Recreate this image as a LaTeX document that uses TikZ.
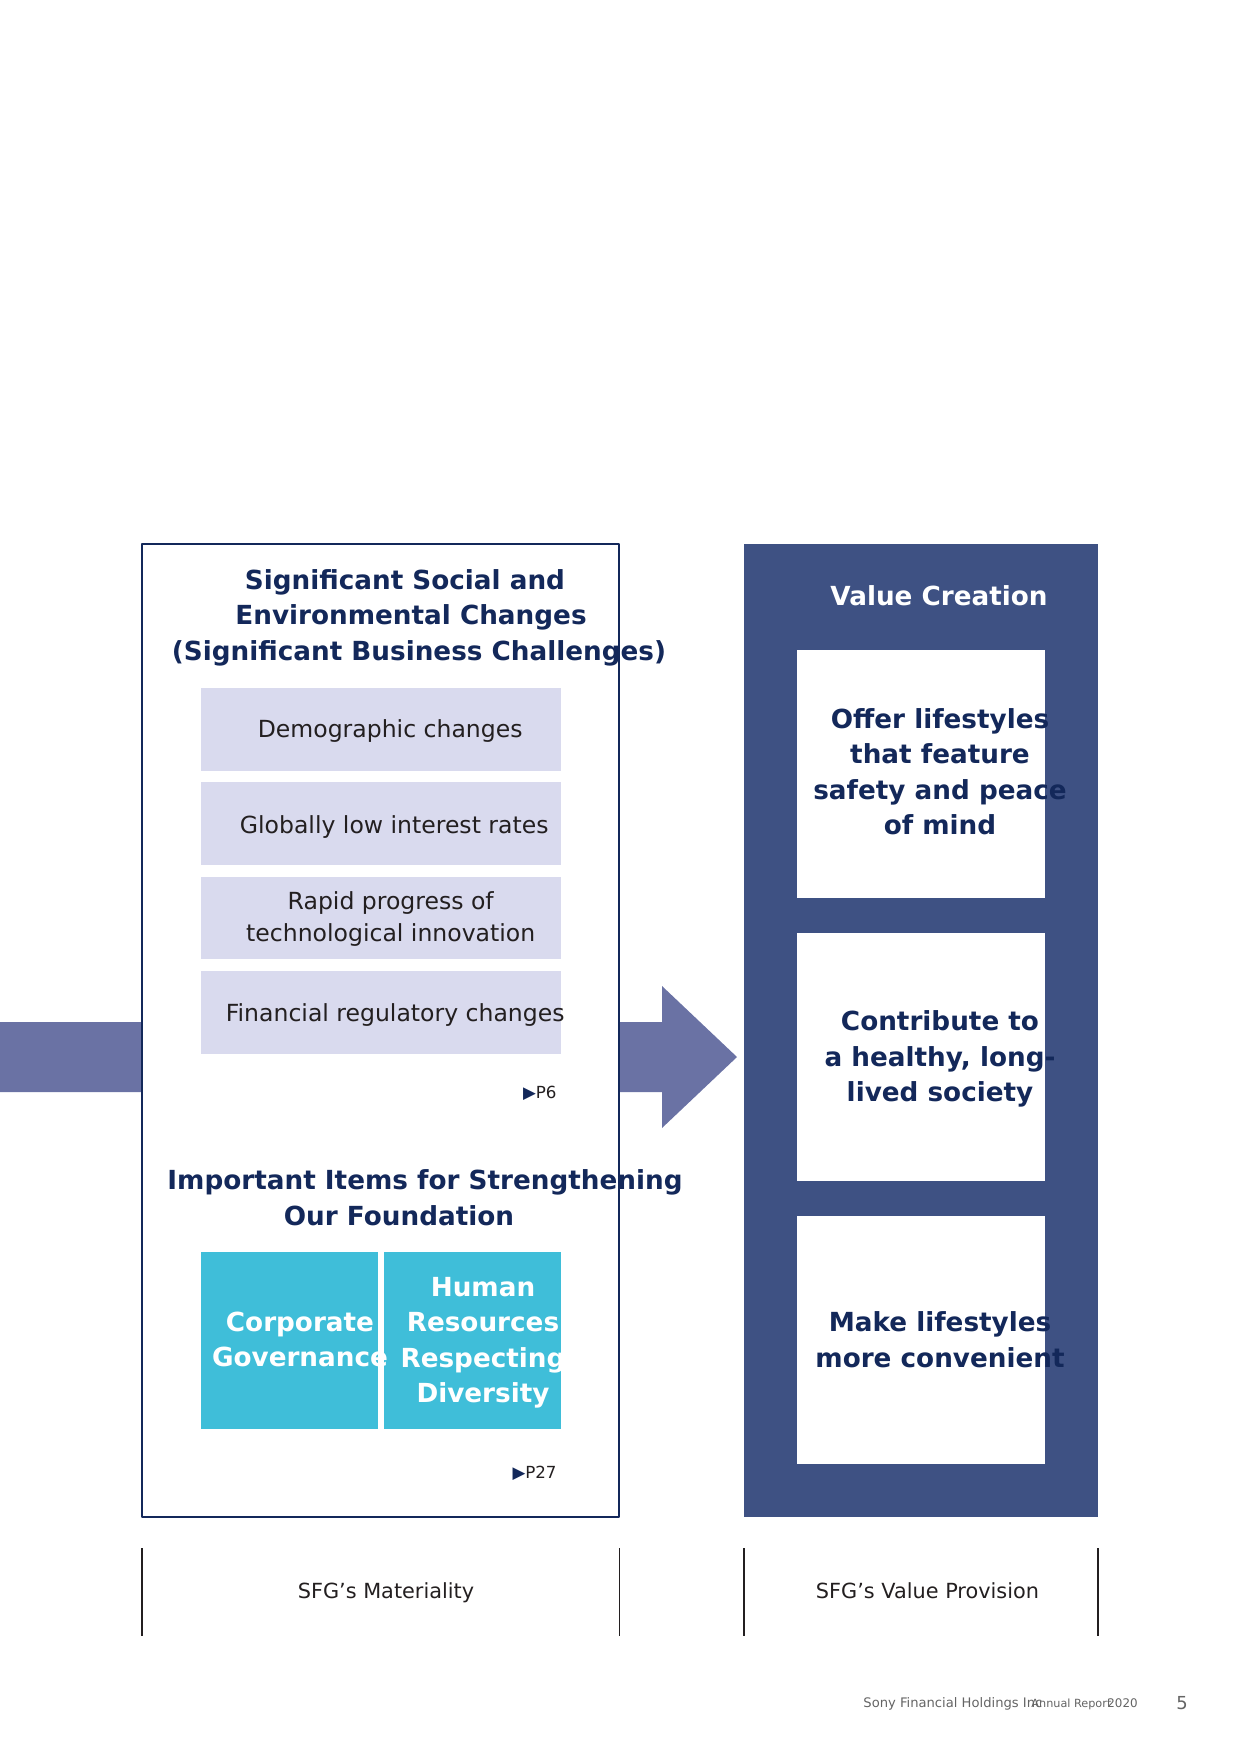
\documentclass[tikz,border=0pt]{standalone}
\usepackage{fontspec}
\setmainfont{DejaVu Sans}
\usetikzlibrary{calc}
\definecolor{sfgnavy}{RGB}{19,40,90}
\definecolor{sfglav}{RGB}{217,218,238}
\definecolor{sfgarrow}{RGB}{106,114,164}
\definecolor{sfgdark}{RGB}{62,81,131}
\definecolor{sfgcyan}{RGB}{63,190,217}
\definecolor{sfgink}{RGB}{35,31,32}
\definecolor{sfggray}{RGB}{100,100,100}
\begin{document}
\begin{tikzpicture}[x=0.48pt,y=-0.48pt,line cap=round,line join=round,
  lavbox/.style={fill=sfglav,minimum width=172.8pt,minimum height=39.8pt,inner sep=0pt},
  lavtext/.style={font=\fontsize{11.3}{15.6}\selectfont,text=sfgink,align=center,inner sep=0pt},
  cyanbox/.style={fill=sfgcyan,minimum width=84.6pt,minimum height=84.7pt,inner sep=0pt},
  valbox/.style={fill=white,minimum width=119pt,minimum height=118.8pt,inner sep=0pt},
  headtext/.style={font=\bfseries\fontsize{12.6}{17}\selectfont,text=sfgnavy,align=center,inner sep=0pt},
  pagetext/.style={font=\fontsize{8}{10}\selectfont,text=sfgink,inner sep=0pt},
  captext/.style={font=\fontsize{10}{12}\selectfont,text=sfgink,inner sep=0pt},
  divline/.style={draw=sfgink,line width=0.5pt,line cap=butt}]
  \useasboundingbox (0,0) rectangle (1241,1754);
  \fill[sfgarrow] (0,1022) -- (662,1022) -- (662,986) -- (737,1057) -- (662,1128)
    -- (662,1092) -- (0,1092) -- cycle;
  \node[draw=sfgnavy,fill=white,line width=0.9pt,minimum width=229pt,minimum height=467pt,inner sep=0pt]
    (matbox) at (380.5,1030.5) {};
  \node[fill=sfgdark,minimum width=169.9pt,minimum height=467pt,inner sep=0pt] (valframe) at (921,1030.5) {};
  \node[valbox] (offer) at (921,773.9) {};
  \node[valbox] (health) at (921,1057) {};
  \node[valbox] (conv) at (921,1340.2) {};
  \node[lavbox] (demo) at (381.2,729.5) {};
  \node[lavbox] (rates) at (381.2,823.5) {};
  \node[lavbox] (tech) at (381.2,918) {};
  \node[lavbox] (regul) at (381.2,1012.5) {};
  \node[cyanbox] (govern) at (289.5,1340.5) {};
  \node[cyanbox] (human) at (472.4,1340.5) {};
  \node[headtext] (sigtitle) at (411,617.5)
    {Significant Social and\hspace*{5.8pt}\\Environmental Changes\hspace*{3.8pt}\\
     \hspace*{7.7pt}(Significant Business Challenges)};
  \node[lavtext,anchor=base] (demotxt) at ($(demo)+(9,7.5)$) {Demographic changes};
  \node[lavtext,anchor=base] (ratestxt) at ($(rates)+(13,9.5)$) {Globally low interest rates};
  \node[lavtext] (techtxt) at ($(tech)+(9.5,1.2)$) {Rapid progress of\\technological innovation};
  \node[lavtext,anchor=base] (regultxt) at ($(regul)+(14,8.5)$) {Financial regulatory changes};
  \node[pagetext,anchor=base east] (psix) at (557,1098) {\textcolor{sfgnavy}{▶}P6};
  \node[headtext] (foundtitle) at (412,1197.7)
    {\hspace*{12.5pt}Important Items for Strengthening\\Our Foundation\hspace*{12.5pt}};
  \node[headtext,text=white] (governtxt) at ($(govern)+(10.5,-1)$) {Corporate\\Governance};
  \node[headtext,text=white] (humantxt) at ($(human)+(10.6,2.2)$) {Human\\Resources\\Respecting\\Diversity};
  \node[pagetext,anchor=base east] (ptwoseven) at (557,1478) {\textcolor{sfgnavy}{▶}P27};
  \node[headtext,text=white,anchor=base] (valtitle) at (939,605) {Value Creation};
  \node[headtext] (offertxt) at ($(offer)+(19,-2)$)
    {Offer lifestyles\\that feature\\safety and peace\\of mind};
  \node[headtext] (healthtxt) at ($(health)+(19,2)$) {Contribute to\\a healthy, long-\\lived society};
  \node[headtext] (convtxt) at ($(conv)+(19,-0.5)$) {Make lifestyles\\more convenient};
  \draw[divline] (142,1548) -- (142,1636);
  \draw[divline] (619.5,1548) -- (619.5,1636);
  \draw[divline] (744,1548) -- (744,1636);
  \draw[divline] (1098,1548) -- (1098,1636);
  \node[captext,anchor=base] (matcap) at (386,1598.5) {SFG’s Materiality};
  \node[captext,anchor=base] (valcap) at (927.5,1598.5) {SFG’s Value Provision};
  \node[anchor=base west,inner sep=0pt,text=sfggray,font=\fontsize{6.3}{7}\selectfont] (company) at (863,1707)
    {Sony Financial Holdings Inc};
  \node[anchor=base west,inner sep=0pt,text=sfggray,font=\fontsize{5.4}{6}\selectfont] (report) at (1031,1707)
    {Annual Report};
  \node[anchor=base west,inner sep=0pt,text=sfggray,font=\fontsize{5.7}{6}\selectfont] (year) at (1107,1707)
    {2020};
  \node[anchor=base west,inner sep=0pt,text=sfggray,font=\fontsize{8.6}{10}\selectfont] (pageno) at (1176,1709)
    {5};
\end{tikzpicture}
\end{document}
